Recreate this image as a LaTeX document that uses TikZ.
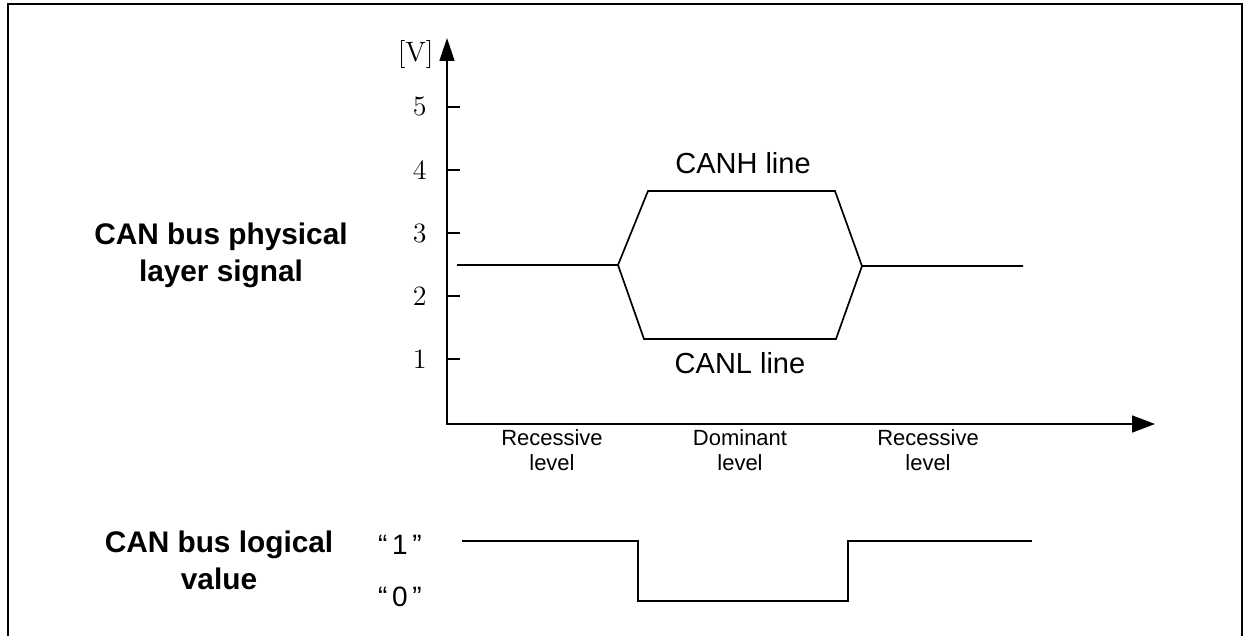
\documentclass[tikz,border=0pt]{standalone}
\usepackage{fontspec}
\setsansfont{Liberation Sans}
\usetikzlibrary{arrows.meta}

\begin{document}
\begin{tikzpicture}[
    x=0.5pt, y=-0.5pt,
    wave/.style={line width=0.85pt},
    axis/.style={line width=0.85pt, {Triangle[length=11.5pt, width=7.5pt]}-{Triangle[length=11.5pt, width=8.5pt]}},
    title/.style={font=\sffamily\bfseries\fontsize{14.9}{18.5}\selectfont, align=center},
    linelabel/.style={font=\sffamily\fontsize{14.5}{17}\selectfont},
    levellabel/.style={font=\sffamily\fontsize{11}{12.5}\selectfont, align=center},
    volt/.style={font=\fontsize{14}{16}\selectfont, anchor=east, inner sep=0pt},
    bit/.style={font=\sffamily\fontsize{14}{16}\selectfont}
]
\useasboundingbox (0,0) rectangle (1247,636);
\draw[line width=1.25pt] (8,640) -- (8,4) -- (1242,4) -- (1242,640);

% Axes
\coordinate (origin) at (447,424);
\coordinate (vtip) at (447,38);
\coordinate (ttip) at (1155,424);
\draw[axis] (vtip) -- (origin) -- (ttip);
\node[volt] (unit) at (434,55) {[V]};
\foreach \v/\yy in {1/359, 2/296, 3/233, 4/170, 5/107} {
    \draw[wave] (447,\yy) -- (460,\yy);
    \node[volt] (v\v) at (427,\yy) {\v};
}

% Physical layer signal
\node[title] (phys) at (221,255) {CAN bus physical\\layer signal};
\coordinate (rec1) at (457,265);
\coordinate (fall) at (618,265);
\coordinate (hi1) at (648,191);
\coordinate (hi2) at (835,191);
\coordinate (rise) at (862,266);
\coordinate (lo1) at (644,339);
\coordinate (lo2) at (836,339);
\coordinate (rec2) at (1023,266);
\draw[wave] (rec1) -- (fall) -- (hi1) -- (hi2) -- (rise) -- (rec2);
\draw[wave] (fall) -- (lo1) -- (lo2) -- (rise);
\node[linelabel] (canh) at (743,163) {CANH line};
\node[linelabel] (canl) at (740,363) {CANL line};

% Levels
\node[levellabel] (recl) at (552,450) {Recessive\\level};
\node[levellabel] (dom) at (740,450) {Dominant\\level};
\node[levellabel] (recr) at (928,450) {Recessive\\level};

% Logical value
\node[title] (logic) at (219,560) {CAN bus logical\\value};
\node[bit] (one) at (400,545) {“\,1\,”};
\node[bit] (zero) at (400,597) {“\,0\,”};
\coordinate (b0) at (462,541);
\coordinate (b1) at (638,541);
\coordinate (b2) at (638,601);
\coordinate (b3) at (848,601);
\coordinate (b4) at (848,541);
\coordinate (b5) at (1032,541);
\draw[wave] (b0) -- (b1) -- (b2) -- (b3) -- (b4) -- (b5);
\end{tikzpicture}
\end{document}
